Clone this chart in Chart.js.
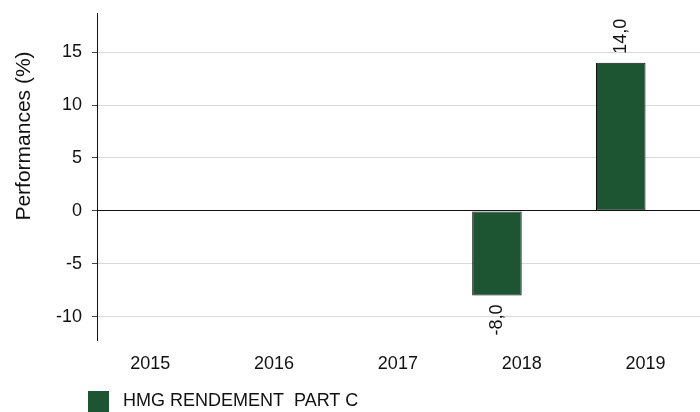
<!DOCTYPE html>
<html>
<head>
<meta charset="utf-8">
<script src="https://cdn.jsdelivr.net/npm/chart.js@4/dist/chart.umd.min.js"></script>
<style>
    html, body { margin: 0; padding: 0; background: #fff; overflow: hidden; }
    canvas { display: block; }
</style>
</head>
<body>
<canvas id="perfChart" width="700" height="412"></canvas>
<script>
const years = [2015, 2016, 2017, 2018, 2019];
const fundValues = [null, null, null, -8.0, 14.0];
const benchmarkValues = [null, null, null, null, null];
const yTickStep = 5;

const fundLabel = 'HMG RENDEMENT  PART C';
const axisTitle = 'Performances (%)';
const barGreen = '#1d5533';
const fontFamily = '"Liberation Sans", Arial, sans-serif';

function toPoints(values) {
    return years.map((year, i) => ({ x: year, y: values[i] }));
}

function formatValue(value) {
    return value.toFixed(1).replace('.', ',');
}

// value written along each bar, rotated, just past its end
const barValueLabels = {
    id: 'barValueLabels',
    afterDatasetsDraw(chart) {
        const { ctx } = chart;
        const meta = chart.getDatasetMeta(0);
        ctx.save();
        ctx.font = `18px ${fontFamily}`;
        ctx.fillStyle = '#111';
        ctx.textBaseline = 'middle';
        meta.data.forEach((bar, i) => {
            const value = fundValues[i];
            if (value === null) {
                return;
            }
            const positive = value >= 0;
            ctx.save();
            ctx.translate(bar.x, positive ? bar.y - 9 : bar.y + 9);
            ctx.rotate(-Math.PI / 2);
            ctx.textAlign = positive ? 'left' : 'right';
            ctx.fillText(formatValue(value), 0, 0);
            ctx.restore();
        });
        ctx.restore();
    }
};

// rotated y title and the single legend entry
const sideTexts = {
    id: 'sideTexts',
    afterDraw(chart) {
        const { ctx } = chart;
        ctx.save();
        ctx.fillStyle = '#111';
        ctx.font = `21px ${fontFamily}`;
        ctx.textAlign = 'center';
        ctx.textBaseline = 'middle';
        ctx.translate(24, 136);
        ctx.rotate(-Math.PI / 2);
        ctx.fillText(axisTitle, 0, 0);
        ctx.restore();

        const dataset = chart.data.datasets[0];
        ctx.save();
        ctx.fillStyle = dataset.backgroundColor;
        ctx.fillRect(88, 391, 21, 21);
        ctx.fillStyle = '#111';
        ctx.font = `18px ${fontFamily}`;
        ctx.textAlign = 'left';
        ctx.textBaseline = 'middle';
        ctx.fillText(dataset.label, 123, 401);
        ctx.restore();
    }
};

new Chart(document.getElementById('perfChart'), {
    type: 'bar',
    data: {
        datasets: [
            {
                label: fundLabel,
                data: toPoints(fundValues),
                backgroundColor: barGreen,
                borderColor: '#111',
                borderWidth: 1,
                borderSkipped: false,
                barPercentage: 1,
                categoryPercentage: 0.8
            },
            {
                label: '',
                data: toPoints(benchmarkValues),
                backgroundColor: '#888',
                barPercentage: 1,
                categoryPercentage: 0.8
            }
        ]
    },
    options: {
        responsive: false,
        animation: false,
        layout: {
            padding: { top: 13, right: 0, bottom: 37, left: 0 }
        },
        plugins: {
            legend: { display: false },
            tooltip: { enabled: false }
        },
        scales: {
            x: {
                type: 'linear',
                offset: false,
                min: 2014.57,
                max: 2019.44,
                afterFit: (scale) => {
                    scale.height = 35;
                    scale.paddingLeft = 0;
                    scale.paddingRight = 0;
                },
                grid: { display: false, drawTicks: false, offset: false },
                border: { display: false },
                ticks: {
                    stepSize: 1,
                    includeBounds: false,
                    padding: 13,
                    maxRotation: 0,
                    color: '#111',
                    font: { family: fontFamily, size: 18 },
                    callback: (value) => String(value)
                }
            },
            y: {
                min: -12.2,
                max: 18.7,
                afterFit: (scale) => {
                    scale.width = 97;
                    scale.paddingTop = 0;
                    scale.paddingBottom = 0;
                },
                border: { display: true, color: '#111', width: 1 },
                grid: {
                    color: (ctx) => (ctx.tick && ctx.tick.value === 0 ? '#111' : '#d9d9d9'),
                    tickColor: '#444',
                    tickLength: 5
                },
                ticks: {
                    stepSize: yTickStep,
                    includeBounds: false,
                    padding: 10,
                    color: '#111',
                    font: { family: fontFamily, size: 18 }
                }
            }
        }
    },
    plugins: [barValueLabels, sideTexts]
});
</script>
</body>
</html>
